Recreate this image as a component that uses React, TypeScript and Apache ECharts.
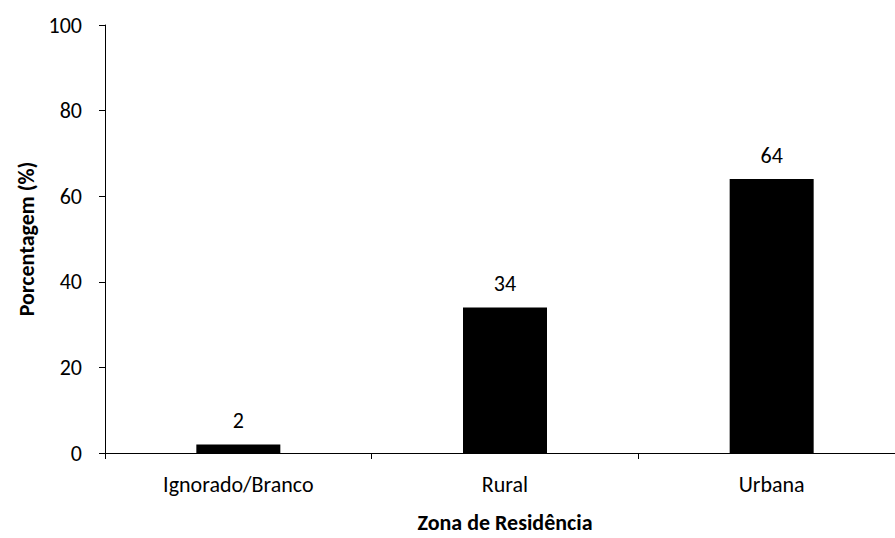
import React, { useEffect, useRef } from "react";
import * as echarts from "echarts";

const categories = ["Ignorado/Branco", "Rural", "Urbana"];
const values = [2, 34, 64];
const yTicks = [0, 20, 40, 60, 80, 100];

export default function App() {
  const ref = useRef<HTMLDivElement>(null);
  useEffect(() => {
    document.body.style.overflow = "hidden";
    const chart = echarts.init(ref.current!, null, { renderer: "svg" });
    const font = "Carlito, Lato, sans-serif";
    const fs = 22;
    chart.setOption({
      animation: false,
      grid: { left: 105, right: 0, top: 25, bottom: 79, containLabel: false },
      xAxis: {
        type: "category",
        data: categories,
        name: "Zona de Residência",
        nameLocation: "middle",
        nameGap: 58,
        nameTextStyle: { fontFamily: font, fontSize: fs, fontWeight: "bold", color: "#000" },
        axisLine: { lineStyle: { color: "#000", width: 1 } },
        axisTick: { show: true, alignWithLabel: false, length: 6, lineStyle: { color: "#000" } },
        axisLabel: { fontFamily: font, fontSize: fs, color: "#000", margin: 20 },
      },
      yAxis: {
        type: "value",
        min: yTicks[0],
        max: yTicks[yTicks.length - 1],
        interval: 20,
        name: "Porcentagem (%)",
        nameLocation: "middle",
        nameGap: 66,
        nameTextStyle: { fontFamily: font, fontSize: fs, fontWeight: "bold", color: "#000" },
        axisLine: { show: true, lineStyle: { color: "#000", width: 1 } },
        axisTick: { show: true, length: 6, lineStyle: { color: "#000" } },
        splitLine: { show: false },
        axisLabel: { fontFamily: font, fontSize: fs, color: "#000", margin: 23 },
      },
      series: [
        {
          type: "bar",
          data: values,
          barWidth: 84,
          itemStyle: { color: "#000" },
          label: { show: true, position: "top", distance: 13, fontFamily: font, fontSize: fs, color: "#000" },
        },
      ],
    });
    return () => chart.dispose();
  }, []);
  return <div ref={ref} style={{ position: "fixed", left: 0, top: 0, width: 905, height: 538, background: "#fff" }} />;
}
